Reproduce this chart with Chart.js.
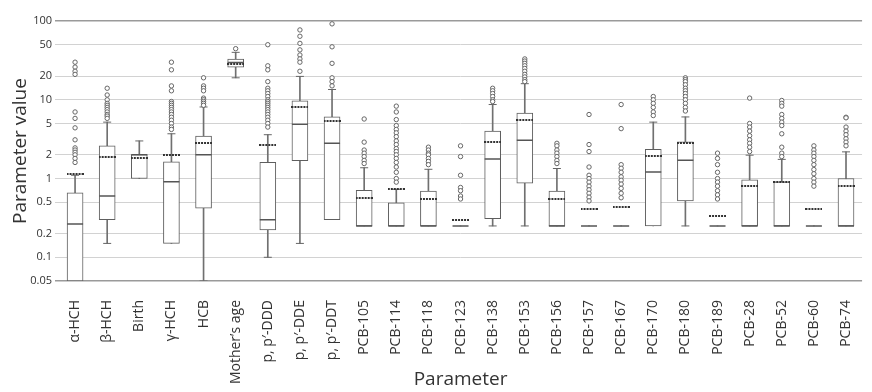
<!DOCTYPE html>
<html>
<head>
<meta charset="utf-8">
<script src="https://cdn.jsdelivr.net/npm/chart.js@4"></script>
<style>
body { margin: 0; overflow: hidden; background: #fff; }
#wrap { width: 882px; height: 392px; }
</style>
</head>
<body>
<div id="wrap"><canvas id="box-chart"></canvas></div>
<script>
// categories
var labels = ['α-HCH', 'β-HCH', 'Birth', 'γ-HCH', 'HCB', 'Mother’s age', 'p, p′-DDD', 'p, p′-DDE', 'p, p′-DDT',
    'PCB-105', 'PCB-114', 'PCB-118', 'PCB-123', 'PCB-138', 'PCB-153', 'PCB-156', 'PCB-157', 'PCB-167',
    'PCB-170', 'PCB-180', 'PCB-189', 'PCB-28', 'PCB-52', 'PCB-60', 'PCB-74'];

// box statistics
var q1 =          [0.05, 0.30, 1.0, 0.15, 0.42, 26, 0.223, 1.68, 0.30, 0.25, 0.25, 0.25, 0.25, 0.31, 0.87, 0.25, 0.25, 0.25, 0.25, 0.52, 0.25, 0.25, 0.25, 0.25, 0.25];
var q3 =          [0.66, 2.6, 2.02, 1.63, 3.45, 32.8, 1.6, 9.7, 6.05, 0.71, 0.49, 0.695, 0.25, 4.0, 6.8, 0.695, 0.25, 0.25, 2.34, 2.92, 0.25, 0.96, 0.91, 0.25, 1.0];
var median =      [0.265, 0.6, 2.0, 0.91, 2.0, 29.8, 0.30, 4.9, 2.8, 0.25, 0.25, 0.25, 0.25, 1.77, 3.07, 0.25, 0.25, 0.25, 1.21, 1.71, 0.25, 0.25, 0.25, 0.25, 0.25];
var mean =        [1.13, 1.89, 1.83, 1.97, 2.8, 28.5, 2.65, 8.1, 5.4, 0.56, 0.74, 0.545, 0.30, 2.93, 5.5, 0.545, 0.41, 0.43, 1.94, 2.85, 0.335, 0.80, 0.91, 0.41, 0.80];
var whiskerLow =  [0.05, 0.15, 1.0, 0.15, 0.05, 19, 0.1, 0.15, 0.30, 0.25, 0.25, 0.25, 0.25, 0.25, 0.25, 0.25, 0.25, 0.25, 0.25, 0.25, 0.25, 0.25, 0.25, 0.25, 0.25];
var whiskerHigh = [1.1, 5.2, 3.0, 3.7, 8.1, 40, 3.6, 19.8, 13.5, 1.37, 0.73, 1.31, 0.25, 8.7, 16, 1.34, 0.25, 0.25, 5.2, 6.05, 0.25, 1.98, 1.75, 0.25, 2.18];

var outliers = [
    [30, 26, 23, 21, 7.0, 5.8, 4.4, 3.1, 2.45, 2.3, 2.15, 2.0, 1.8, 1.6],
    [14, 11.5, 10, 9, 8.5, 8, 7.5, 7, 6.5, 6.2, 5.8],
    [],
    [30, 24, 15, 13, 9.5, 9, 8.5, 8, 7.5, 7, 6.5, 6, 5.5, 5, 4.5, 4.2],
    [19, 15, 14, 13, 10.5, 10, 9.5, 9, 8.5],
    [44.5],
    [50, 27, 24, 17, 14, 13, 12, 11, 10, 9.5, 9, 8.5, 8, 7.5, 7, 6.5, 6, 5.5, 5, 4.5],
    [77, 64, 52, 43, 37, 33, 30, 23],
    [92, 47, 29, 19, 17, 15],
    [5.7, 2.9, 2.3, 2.1, 1.9, 1.7, 1.55],
    [8.3, 7, 5.6, 4.7, 4.2, 3.8, 3.4, 3, 2.7, 2.4, 2.2, 2, 1.8, 1.6, 1.4, 1.2, 1.0, 0.9],
    [2.5, 2.3, 2.1, 2.0, 1.8, 1.65, 1.5],
    [2.6, 1.9, 1.1, 0.77, 0.7, 0.6, 0.55],
    [14, 13, 12, 11, 10, 9.5],
    [33, 31, 29, 27, 25, 23, 21, 19.5, 18, 17],
    [2.8, 2.6, 2.3, 2.1, 1.9, 1.7, 1.55],
    [6.5, 2.7, 2.2, 1.4, 1.1, 1.0, 0.9, 0.8, 0.72, 0.65, 0.58, 0.52],
    [8.7, 4.3, 1.5, 1.35, 1.2, 1.05, 0.95, 0.85, 0.75, 0.65, 0.57],
    [11, 10, 9, 8, 7, 6.3],
    [19, 18, 17, 15.5, 14, 13, 12, 11, 10, 9, 8, 7.2],
    [2.1, 1.8, 1.5, 1.2, 1.0, 0.9, 0.8, 0.7, 0.62, 0.55],
    [10.5, 5, 4.5, 4, 3.5, 3.1, 2.8, 2.5, 2.2],
    [9.8, 9, 8.3, 6.5, 5.8, 5.2, 4.7, 3.7, 2.5, 2.1, 1.9],
    [2.6, 2.3, 2.1, 1.9, 1.7, 1.5, 1.3, 1.15, 1.0, 0.9, 0.8],
    [6, 5.9, 4.5, 4, 3.6, 3.2, 2.9, 2.6]
];

// y axis ticks
var tickValues = [0.05, 0.1, 0.2, 0.5, 1, 2, 5, 10, 20, 50, 100];
var tickLabels = ['0.05', '0.1', '0.2', '0.5', '1', '2', '5', '10', '20', '50', '100'];

// build the datasets from the arrays
var boxes = q1.map(function(v, i) { return [v, q3[i]]; });
var whiskers = whiskerLow.map(function(v, i) { return [v, whiskerHigh[i]]; });
var medianPts = median.map(function(v, i) { return {x: labels[i], y: v}; });
var meanPts = mean.map(function(v, i) { return {x: labels[i], y: v}; });
var capPts = [];
var outlierPts = [];
for (let i = 0; i < labels.length; i++) {
    if (whiskerLow[i] < q1[i]) capPts.push({x: labels[i], y: whiskerLow[i]});
    if (whiskerHigh[i] > q3[i]) capPts.push({x: labels[i], y: whiskerHigh[i]});
    outliers[i].forEach(function(v) { outlierPts.push({x: labels[i], y: v}); });
}

// dotted mark used for the mean
var dots = document.createElement('canvas');
dots.width = 17; dots.height = 2;
var g = dots.getContext('2d');
g.fillStyle = '#333';
for (var x = 0; x < 17; x += 3) g.fillRect(x, 0, 2, 2);

var font = 'Open Sans';

var ctx = document.getElementById('box-chart').getContext('2d');
var chart = new Chart(ctx, {
    type: 'bar',
    data: {
        labels: labels,
        datasets: [
            {
                type: 'line', data: outlierPts, showLine: false, order: 0,
                pointStyle: 'circle', pointRadius: 2.2, borderWidth: 1,
                borderColor: '#666', backgroundColor: '#fff'
            },
            {
                type: 'line', data: meanPts, showLine: false, order: 0,
                pointStyle: dots, pointRadius: 8
            },
            {
                type: 'line', data: medianPts, showLine: false, order: 0,
                pointStyle: 'line', pointRadius: 8, borderWidth: 1.5, borderColor: '#555'
            },
            {
                type: 'line', data: capPts, showLine: false, order: 0,
                pointStyle: 'line', pointRadius: 4, borderWidth: 1, borderColor: '#666'
            },
            {
                data: boxes, order: 1, grouped: false, barThickness: 16,
                backgroundColor: '#fff', borderColor: '#5e5e5e', borderWidth: 1, borderSkipped: false
            },
            {
                data: whiskers, order: 2, grouped: false, barThickness: 1,
                backgroundColor: '#707070', borderWidth: 0
            }
        ]
    },
    options: {
        responsive: true,
        maintainAspectRatio: false,
        animation: false,
        layout: {padding: {top: 21, left: 0, right: 0, bottom: 0}},
        plugins: {legend: {display: false}, tooltip: {enabled: false}},
        scales: {
            x: {
                offset: true,
                grid: {display: false, drawTicks: false},
                border: {display: false},
                ticks: {autoSkip: false, minRotation: 90, maxRotation: 90, padding: 19,
                        color: '#333', font: {family: font, size: 14}},
                title: {display: true, text: 'Parameter', color: '#333',
                        font: {family: font, size: 19}, padding: {top: 0, bottom: 1}},
                afterFit: function(s) { s.height = 111; }
            },
            y: {
                type: 'logarithmic',
                min: 0.05,
                max: 100,
                afterBuildTicks: function(s) {
                    s.ticks = tickValues.map(function(v) { return {value: v}; });
                },
                grid: {
                    color: function(c) {
                        return (c.tick && (c.tick.value === 100 || c.tick.value === 0.05)) ? '#9a9a9a' : '#d2d2d2';
                    },
                    lineWidth: function(c) {
                        return (c.tick && (c.tick.value === 100 || c.tick.value === 0.05)) ? 1.5 : 1;
                    },
                    tickLength: 4
                },
                border: {display: false},
                ticks: {
                    padding: 3, color: '#333', font: {family: font, size: 11},
                    callback: function(v) { return tickLabels[tickValues.indexOf(v)]; }
                },
                title: {display: true, text: 'Parameter value', color: '#333',
                        font: {family: font, size: 19}, padding: {top: 9, bottom: 0}},
                afterFit: function(s) { s.width = 59; }
            }
        }
    }
});
</script>
</body>
</html>
